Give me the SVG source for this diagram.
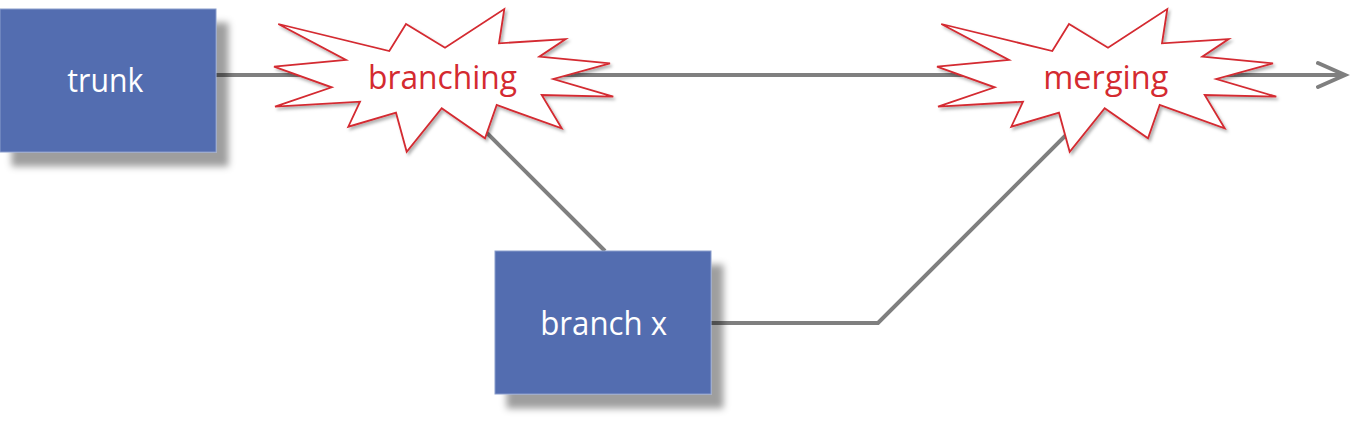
<svg xmlns="http://www.w3.org/2000/svg" xmlns:xlink="http://www.w3.org/1999/xlink" width="1372" height="424" viewBox="0 0 1372 424">
<style>
.box{fill:#526db0;stroke:#8a9dcc;stroke-width:1}
.boxtxt{font-family:"Open Sans","Liberation Sans",sans-serif;font-size:33px;fill:#ffffff;text-anchor:middle}
.star{fill:#ffffff;stroke:#d42a30;stroke-width:1.8;stroke-linejoin:miter}
.startxt{font-family:"Open Sans","Liberation Sans",sans-serif;font-size:33px;fill:#d42a30;text-anchor:middle}
.conn{fill:none;stroke:#7f7f7f;stroke-width:4}
</style>
<defs>
<filter id="boxShadow" x="-10%" y="-10%" width="130%" height="140%">
<feDropShadow dx="12" dy="14" stdDeviation="3.5" flood-color="#000" flood-opacity="0.38"/>
</filter>
<filter id="starShadow" x="-10%" y="-10%" width="130%" height="130%">
<feDropShadow dx="2" dy="2.5" stdDeviation="1.5" flood-color="#000" flood-opacity="0.3"/>
</filter>
<marker id="arrow" markerUnits="userSpaceOnUse" viewBox="0 0 34 30" markerWidth="34" markerHeight="30" refX="29" refY="15" orient="auto">
<path d="M2,3 L29,15 L2,27" fill="none" stroke="#7f7f7f" stroke-width="4" stroke-linecap="round" stroke-linejoin="miter"/>
</marker>
<path id="explosion" d="M278.3,24 L389.3,51 L406,24 L445,47.7 L504.3,9 L499,43.3 L565.7,39 L539.3,56.7 L610,63.3 L553.3,79 L613.3,96.7 L541.7,95 L561.7,128.3 L496.7,105 L485,138.3 L441.7,108.3 L406.7,151.7 L396,112.7 L348.3,126.7 L360,101.7 L275,106.7 L331.7,87.3 L274,66.7 L346,60 Z"/>
</defs>
<rect width="1372" height="424" fill="#ffffff"/>
<g id="connectors">
<line class="conn" x1="216" y1="75" x2="1345" y2="75" marker-end="url(#arrow)"/>
<line class="conn" x1="460" y1="106" x2="605" y2="251"/>
<polyline class="conn" points="711,323 878,323 1095,106"/>
</g>
<g id="trunk">
<rect class="box" x="0" y="9" width="216" height="143" filter="url(#boxShadow)"/>
<text class="boxtxt" x="105.3" y="92.3" textLength="76" lengthAdjust="spacingAndGlyphs">trunk</text>
</g>
<g id="branch-x">
<rect class="box" x="495" y="251" width="216" height="143" filter="url(#boxShadow)"/>
<text class="boxtxt" x="603.7" y="335" textLength="127" lengthAdjust="spacingAndGlyphs">branch x</text>
</g>
<g id="branching">
<use xlink:href="#explosion" class="star" filter="url(#starShadow)"/>
<text class="startxt" x="442.5" y="89" textLength="149" lengthAdjust="spacingAndGlyphs">branching</text>
</g>
<g id="merging">
<use xlink:href="#explosion" class="star" transform="translate(663,0)" filter="url(#starShadow)"/>
<text class="startxt" x="1105.8" y="89" textLength="125" lengthAdjust="spacingAndGlyphs">merging</text>
</g>
</svg>
